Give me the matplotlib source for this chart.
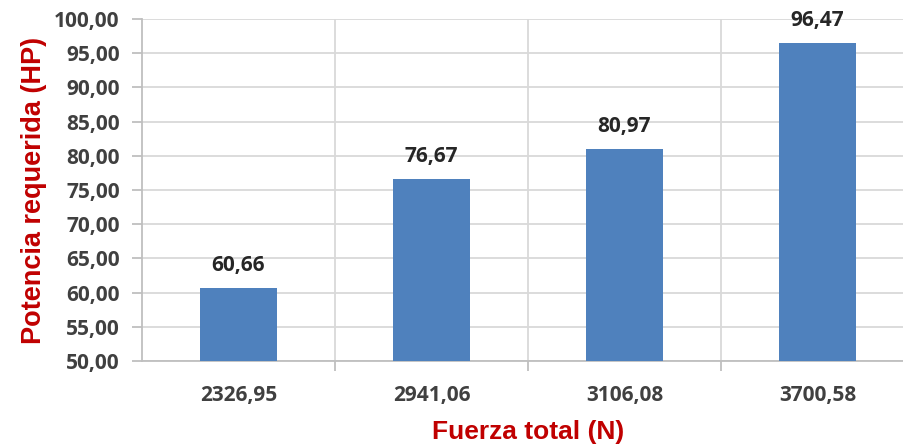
import matplotlib.pyplot as plt
from matplotlib.ticker import FuncFormatter

# datos
fuerza = ['2326,95', '2941,06', '3106,08', '3700,58']
potencia = [60.66, 76.67, 80.97, 96.47]

def coma(v, pos=None):
    return f'{v:.2f}'.replace('.', ',')

fig = plt.figure(figsize=(9.04, 4.45), dpi=100)
# el area del grafico sobresale un poco por la derecha (recortada como en el original)
ax = fig.add_axes([142/904, 84/445, 772/904, 342/445])

x = range(len(fuerza))
ax.bar(x, potencia, width=0.4, color='#4F81BD', zorder=3)

ax.set_ylim(50, 100)
ax.set_yticks(range(50, 101, 5))
ax.yaxis.set_major_formatter(FuncFormatter(coma))
ax.set_xlim(-0.5, 3.5)

# etiquetas x en el centro, ticks en los bordes
ax.set_xticks(list(x))
ax.set_xticklabels(fuerza)
ax.set_xticks([0.5, 1.5, 2.5], minor=True)
ax.tick_params(axis='x', which='major', length=0, pad=17)
ax.tick_params(axis='x', which='minor', length=7, color='#BFBFBF', width=1.3)
ax.tick_params(axis='y', length=7, color='#BFBFBF', width=1.3, pad=9)

fnt = 'Open Sans'
for lab in ax.get_xticklabels() + ax.get_yticklabels():
    lab.set_fontfamily(fnt)
    lab.set_fontweight('bold')
    lab.set_fontsize(15)
    lab.set_color('#404040')

ax.grid(axis='y', color='#D9D9D9', lw=1.3, zorder=0)
ax.grid(axis='x', which='minor', color='#D9D9D9', lw=1.3, zorder=0)

for s in ['top', 'right']:
    ax.spines[s].set_visible(False)
for s in ['left', 'bottom']:
    ax.spines[s].set_color('#BFBFBF')
    ax.spines[s].set_linewidth(1.3)

for i, v in zip(x, potencia):
    ax.annotate(coma(v), (i, v), xytext=(0, 12), textcoords='offset pixels',
                ha='center', va='bottom', fontfamily=fnt, fontweight='bold',
                fontsize=15, color='#262626')

ax.set_xlabel('Fuerza total (N)', fontfamily='Liberation Sans', fontweight='bold',
              fontsize=19, color='#C00000', labelpad=10)
ax.set_ylabel('Potencia requerida (HP)', fontfamily='Liberation Sans', fontweight='bold',
              fontsize=19.5, color='#C00000', labelpad=5)

fig.savefig('out.png', dpi=100)
